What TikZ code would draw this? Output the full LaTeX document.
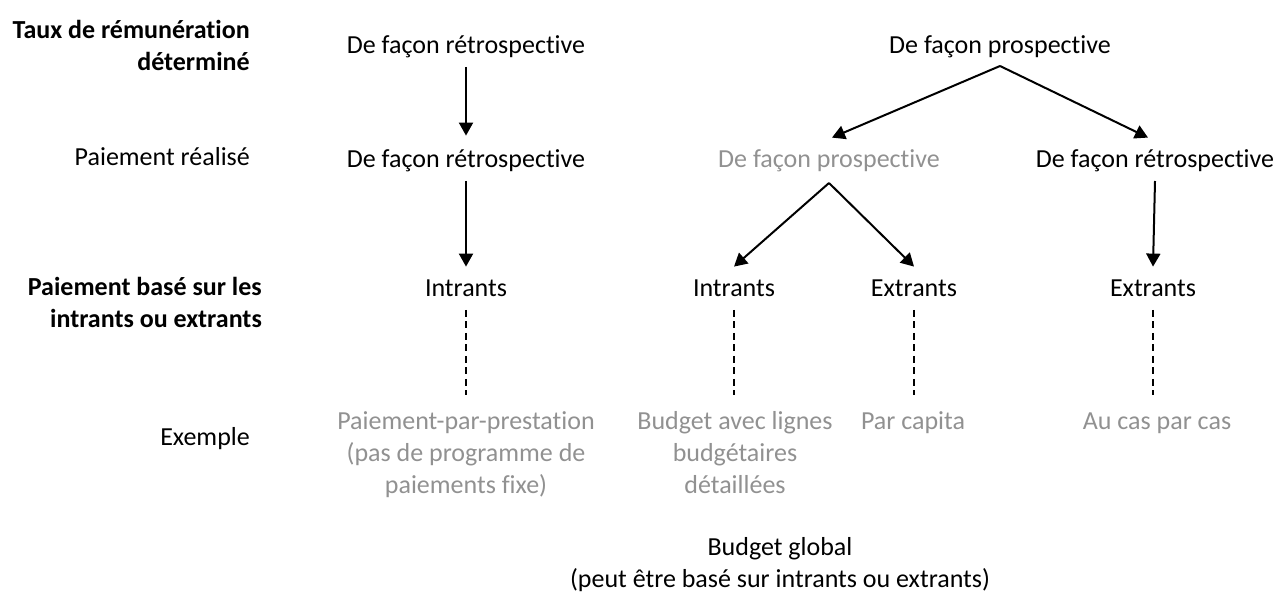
\documentclass[tikz,border=0pt]{standalone}
\usepackage{fontspec}
\setmainfont{Carlito}[Ligatures=NoCommon]
\usetikzlibrary{arrows.meta}
\definecolor{softgray}{RGB}{145,145,145}
\begin{document}
\begin{tikzpicture}[x=1pt,y=-1pt,
  lbl/.style={font=\fontsize{26}{32}\selectfont, inner sep=0pt,
    execute at begin node=\strut, anchor=north},
  side/.style={lbl, anchor=north east, align=right},
  head/.style={side, font=\fontsize{26}{32}\selectfont\bfseries},
  ex/.style={lbl, text=softgray, align=center},
  arr/.style={line width=2pt, -{Triangle[width=14pt,length=13pt]}},
  dash line/.style={line width=1.6pt, dash pattern=on 7pt off 4.5pt},
]
\useasboundingbox (0,0) rectangle (1277,593);

% row headings
\node[head] (hrate) at (250,15.6) {\strut Taux de rémunération\\déterminé};
\node[side] (hpaid) at (250,142.6) {Paiement réalisé};
\node[head] (hbase) at (262,272.6) {\strut Paiement basé sur les\\intrants ou extrants};
\node[side] (hex)   at (250,422.6) {Exemple};

% rate determined
\node[lbl] (r1) at (466,30.6)  {De façon rétrospective};
\node[lbl] (p1) at (1000,30.6) {De façon prospective};

% payment made
\node[lbl] (r2) at (466,144.6) {De façon rétrospective};
\node[lbl,text=softgray] (p2) at (829,144.6) {De façon prospective};
\node[lbl] (r3) at (1155,144.6) {De façon rétrospective};

% inputs / outputs
\node[lbl] (in1)  at (466,273.6)  {Intrants};
\node[lbl] (in2)  at (734,273.6)  {Intrants};
\node[lbl] (out2) at (914,273.6)  {Extrants};
\node[lbl] (out3) at (1153,273.6) {Extrants};

% examples
\node[ex] (ex1) at (466,406.6)  {\strut Paiement-par-prestation\\(pas de programme de\\paiements fixe)};
\node[ex] (ex2) at (735,406.6)  {\strut Budget avec lignes\\budgétaires\\détaillées};
\node[ex] (ex3) at (913,406.6)  {Par capita};
\node[ex] (ex4) at (1157,406.6) {Au cas par cas};

\node[lbl,align=center] (glob) at (780,532.6) {\strut Budget global\\(peut être basé sur intrants ou extrants)};

% arrows
\draw[arr] ([yshift=-4pt]r1.south) -- ([yshift=9pt]r2.north);
\draw[arr] ([yshift=-4pt]r2.south) -- ([yshift=7pt]in1.north);
\draw[arr] ([yshift=-3pt]p1.south) -- ([xshift=3pt,yshift=7pt]p2.north);
\draw[arr] ([yshift=-3pt]p1.south) -- ([xshift=-7pt,yshift=7pt]r3.north);
\draw[arr] ([yshift=-6pt]p2.south) -- ([yshift=7pt]in2.north);
\draw[arr] ([yshift=-6pt]p2.south) -- ([yshift=7pt]out2.north);
\draw[arr] ([yshift=-4pt]r3.south) -- ([yshift=7pt]out3.north);

% dashed links to examples
\draw[dash line] ([yshift=-4pt]in1.south)  -- ([yshift=12pt]in1.south |- ex3.north);
\draw[dash line] ([yshift=-4pt]in2.south)  -- ([yshift=12pt]in2.south |- ex3.north);
\draw[dash line] ([yshift=-4pt]out2.south) -- ([yshift=12pt]out2.south |- ex3.north);
\draw[dash line] ([yshift=-4pt]out3.south) -- ([yshift=12pt]out3.south |- ex4.north);
\end{tikzpicture}
\end{document}
